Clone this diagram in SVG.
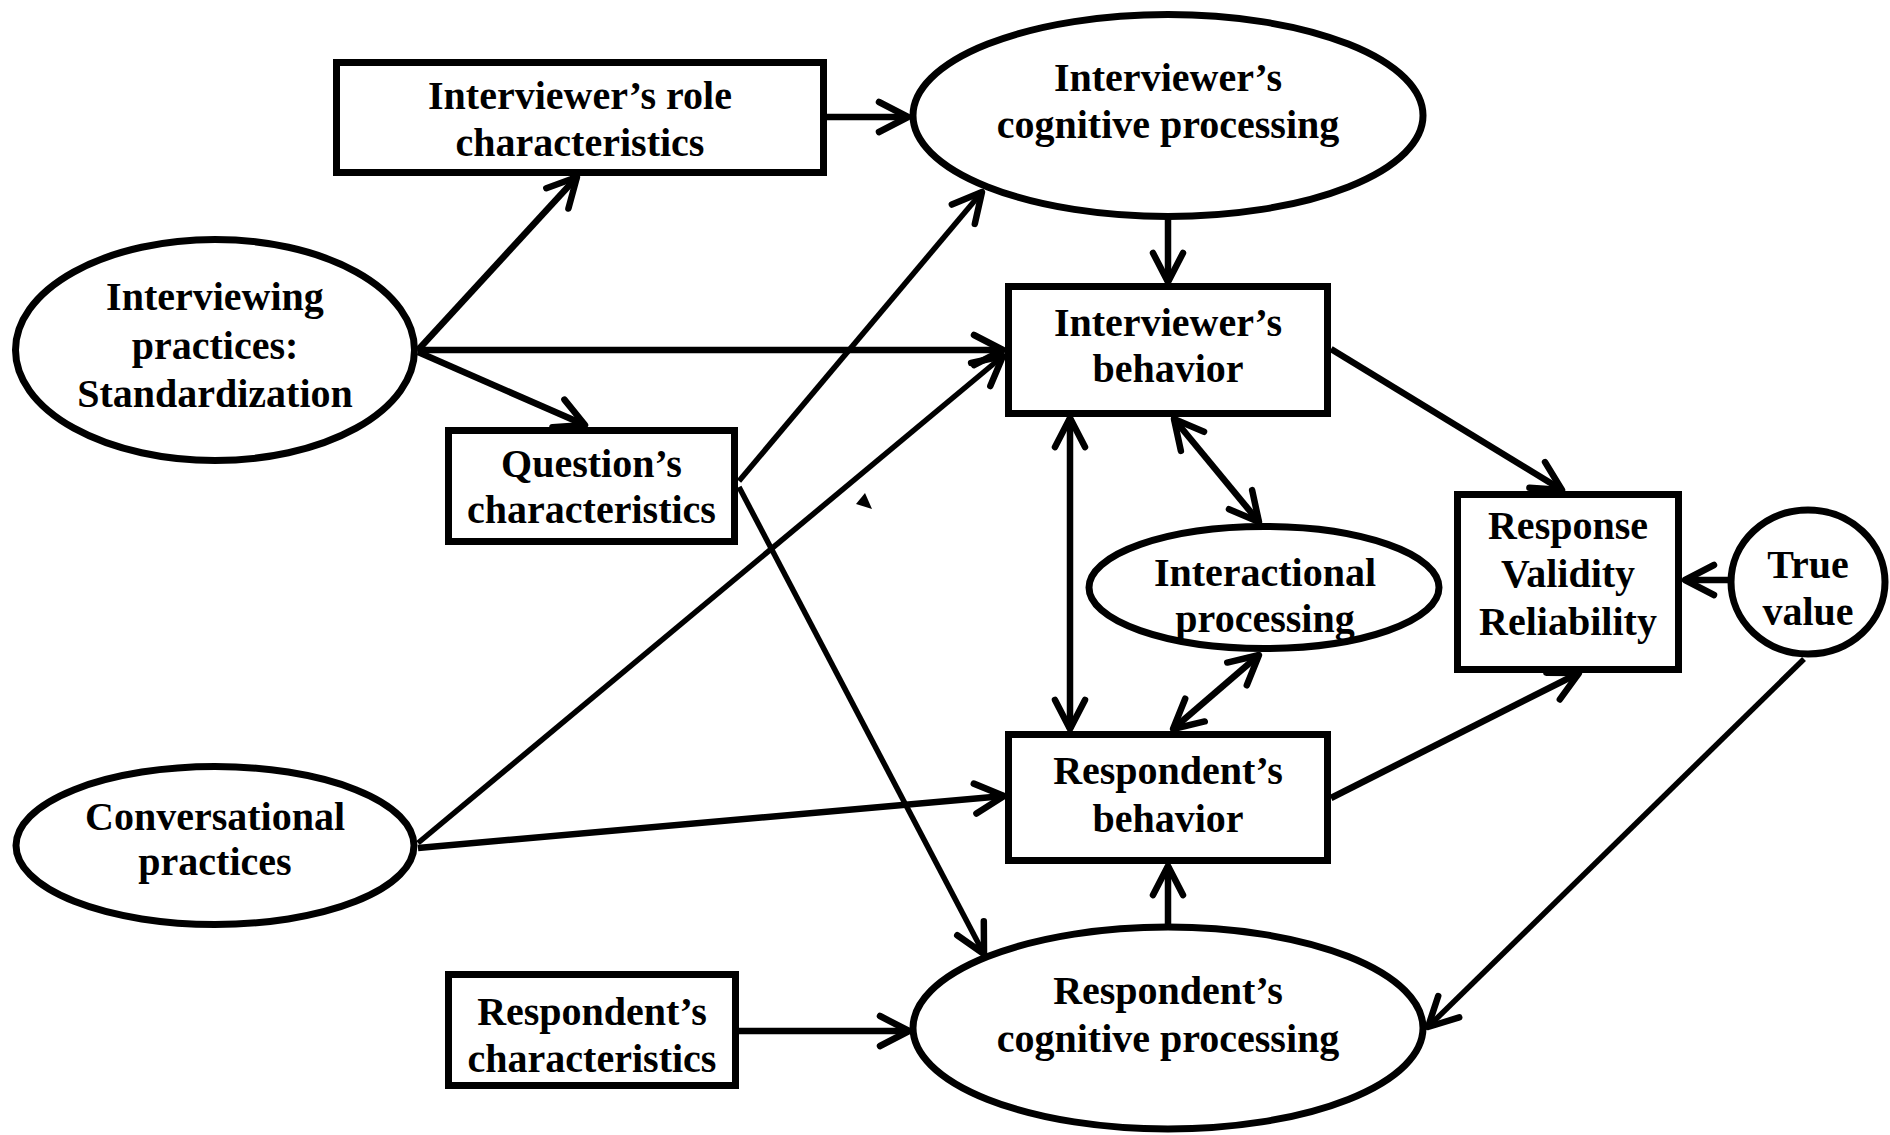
<svg xmlns="http://www.w3.org/2000/svg" width="1890" height="1135" viewBox="0 0 1890 1135">
<style>
.node{fill:#fff;stroke:#000;stroke-width:7}
.t{font-family:"Liberation Serif","Times New Roman",serif;font-weight:bold;font-size:40px;text-anchor:middle;fill:#000}
.c{fill:none;stroke:#000;stroke-width:6.5}
.thin{stroke-width:5.5}
.a{marker-end:url(#ah)}
.b{marker-start:url(#ah);marker-end:url(#ah)}
</style>
<defs>
<marker id="ah" viewBox="-40 -25 50 50" refX="0" refY="0" markerWidth="50" markerHeight="50" markerUnits="userSpaceOnUse" orient="auto-start-reverse">
<path d="M-29,-15 L0,0 L-29,15" fill="none" stroke="#000" stroke-width="6.5" stroke-linecap="round" stroke-linejoin="round"/>
</marker>
</defs>
<rect width="1890" height="1135" fill="#fff"/>
<g id="connectors">
<line class="c a" x1="826" y1="117" x2="908" y2="117"/>
<line class="c a" x1="418" y1="350" x2="577" y2="177"/>
<line class="c a" x1="418" y1="350" x2="1003" y2="350"/>
<line class="c a" x1="418" y1="352" x2="585" y2="425"/>
<line class="c thin a" x1="739" y1="481" x2="982" y2="192"/>
<line class="c thin a" x1="739" y1="487" x2="984" y2="954"/>
<line class="c thin a" x1="418" y1="843" x2="1003" y2="356"/>
<line class="c a" x1="418" y1="848" x2="1004" y2="796"/>
<line class="c a" x1="1168" y1="219" x2="1168" y2="282"/>
<line class="c b" x1="1070" y1="418" x2="1070" y2="729"/>
<line class="c b" x1="1174" y1="419" x2="1259" y2="522"/>
<line class="c b" x1="1259" y1="655" x2="1173" y2="729"/>
<line class="c a" x1="1331" y1="349" x2="1562" y2="490"/>
<line class="c a" x1="1331" y1="798" x2="1579" y2="673"/>
<line class="c a" x1="1729" y1="580" x2="1685" y2="580"/>
<line class="c thin a" x1="1804" y1="659" x2="1428" y2="1027"/>
<line class="c a" x1="1168" y1="926" x2="1168" y2="866"/>
<line class="c a" x1="739" y1="1031" x2="909" y2="1031"/>
</g>
<polygon points="856,504 865,493 872,509" fill="#000"/>
<g id="role-characteristics">
<rect class="node" x="336.5" y="62.5" width="487" height="110"/>
<text class="t" x="580" y="109">Interviewer’s role</text>
<text class="t" x="580" y="156">characteristics</text>
</g>
<g id="interviewer-cognitive">
<ellipse class="node" cx="1168" cy="115.5" rx="255" ry="101"/>
<text class="t" x="1168" y="91">Interviewer’s</text>
<text class="t" x="1168" y="138">cognitive processing</text>
</g>
<g id="interviewing-practices">
<ellipse class="node" cx="215" cy="350" rx="199.5" ry="110.5"/>
<text class="t" x="215" y="310">Interviewing</text>
<text class="t" x="215" y="359">practices:</text>
<text class="t" x="215" y="407">Standardization</text>
</g>
<g id="question-characteristics">
<rect class="node" x="448.5" y="430.5" width="286" height="111"/>
<text class="t" x="591.5" y="477">Question’s</text>
<text class="t" x="591.5" y="523">characteristics</text>
</g>
<g id="interviewer-behavior">
<rect class="node" x="1008.5" y="286.5" width="319" height="127"/>
<text class="t" x="1168" y="336">Interviewer’s</text>
<text class="t" x="1168" y="382">behavior</text>
</g>
<g id="interactional-processing">
<ellipse class="node" cx="1264" cy="587.5" rx="175" ry="61"/>
<text class="t" x="1265" y="586">Interactional</text>
<text class="t" x="1265" y="632">processing</text>
</g>
<g id="response">
<rect class="node" x="1457.5" y="494.5" width="221" height="175"/>
<text class="t" x="1568" y="539">Response</text>
<text class="t" x="1568" y="587">Validity</text>
<text class="t" x="1568" y="635">Reliability</text>
</g>
<g id="true-value">
<ellipse class="node" cx="1808" cy="582" rx="77" ry="72"/>
<text class="t" x="1808" y="578">True</text>
<text class="t" x="1808" y="625">value</text>
</g>
<g id="respondent-behavior">
<rect class="node" x="1008.5" y="734.5" width="319" height="126"/>
<text class="t" x="1168" y="784">Respondent’s</text>
<text class="t" x="1168" y="832">behavior</text>
</g>
<g id="respondent-cognitive">
<ellipse class="node" cx="1168" cy="1028" rx="255" ry="101"/>
<text class="t" x="1168" y="1004">Respondent’s</text>
<text class="t" x="1168" y="1052">cognitive processing</text>
</g>
<g id="conversational-practices">
<ellipse class="node" cx="215" cy="845.5" rx="199" ry="79"/>
<text class="t" x="215" y="830">Conversational</text>
<text class="t" x="215" y="875">practices</text>
</g>
<g id="respondent-characteristics">
<rect class="node" x="448.5" y="974.5" width="287" height="111"/>
<text class="t" x="592" y="1025">Respondent’s</text>
<text class="t" x="592" y="1072">characteristics</text>
</g>
</svg>
